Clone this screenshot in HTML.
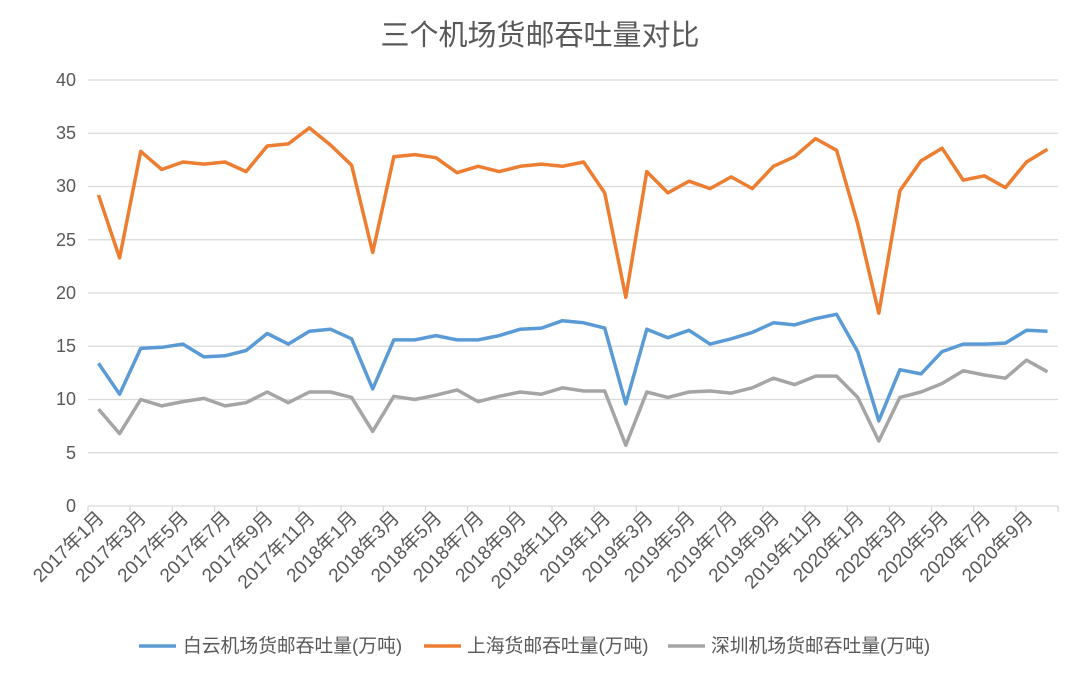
<!DOCTYPE html>
<html><head><meta charset="utf-8"><style>
body{margin:0;background:#fff;}
svg{display:block;font-family:"Liberation Sans","Noto Sans CJK SC",sans-serif;}
</style></head><body>
<svg id="s" width="1080" height="676" viewBox="0 0 1080 676">
<text x="540" y="45" text-anchor="middle" font-size="29" fill="#595959">三个机场货邮吞吐量对比</text>
<g stroke="#d9d9d9" stroke-width="1.3">
<line x1="88" x2="1058" y1="80" y2="80"/><line x1="88" x2="1058" y1="133.25" y2="133.25"/>
<line x1="88" x2="1058" y1="186.5" y2="186.5"/><line x1="88" x2="1058" y1="239.75" y2="239.75"/>
<line x1="88" x2="1058" y1="293" y2="293"/><line x1="88" x2="1058" y1="346.25" y2="346.25"/>
<line x1="88" x2="1058" y1="399.5" y2="399.5"/><line x1="88" x2="1058" y1="452.75" y2="452.75"/>
<line x1="88" x2="1058" y1="506" y2="506"/>
</g>
<g id="ticks" stroke="#d9d9d9" stroke-width="1.3"></g>
<g font-size="18" fill="#595959" text-anchor="end">
<text x="76" y="86">40</text><text x="76" y="139">35</text><text x="76" y="192">30</text>
<text x="76" y="246">25</text><text x="76" y="299">20</text><text x="76" y="352">15</text>
<text x="76" y="405">10</text><text x="76" y="459">5</text><text x="76" y="512">0</text>
</g>
<g font-size="19" fill="#595959" text-anchor="end">
<text transform="translate(105,519) rotate(-45)">2017年1月</text>
<text transform="translate(147.2,519) rotate(-45)">2017年3月</text>
<text transform="translate(189.4,519) rotate(-45)">2017年5月</text>
<text transform="translate(231.7,519) rotate(-45)">2017年7月</text>
<text transform="translate(273.9,519) rotate(-45)">2017年9月</text>
<text transform="translate(316.1,519) rotate(-45)">2017年11月</text>
<text transform="translate(358.3,519) rotate(-45)">2018年1月</text>
<text transform="translate(400.5,519) rotate(-45)">2018年3月</text>
<text transform="translate(442.8,519) rotate(-45)">2018年5月</text>
<text transform="translate(485,519) rotate(-45)">2018年7月</text>
<text transform="translate(527.2,519) rotate(-45)">2018年9月</text>
<text transform="translate(569.4,519) rotate(-45)">2018年11月</text>
<text transform="translate(611.6,519) rotate(-45)">2019年1月</text>
<text transform="translate(653.9,519) rotate(-45)">2019年3月</text>
<text transform="translate(696.1,519) rotate(-45)">2019年5月</text>
<text transform="translate(738.3,519) rotate(-45)">2019年7月</text>
<text transform="translate(780.5,519) rotate(-45)">2019年9月</text>
<text transform="translate(822.7,519) rotate(-45)">2019年11月</text>
<text transform="translate(865,519) rotate(-45)">2020年1月</text>
<text transform="translate(907.2,519) rotate(-45)">2020年3月</text>
<text transform="translate(949.4,519) rotate(-45)">2020年5月</text>
<text transform="translate(991.6,519) rotate(-45)">2020年7月</text>
<text transform="translate(1033.9,519) rotate(-45)">2020年9月</text>
</g>
<polyline id="pg" fill="none" stroke="#a5a5a5" stroke-width="3.5" stroke-linejoin="round"/>
<polyline id="po" fill="none" stroke="#ed7d31" stroke-width="3.5" stroke-linejoin="round"/>
<polyline id="pb" fill="none" stroke="#5b9bd5" stroke-width="3.5" stroke-linejoin="round"/>
<g font-size="18.8" fill="#595959">
<line x1="139" x2="176" y1="646" y2="646" stroke="#5b9bd5" stroke-width="3.5"/>
<text x="183" y="652">白云机场货邮吞吐量(万吨)</text>
<line x1="424" x2="461" y1="646" y2="646" stroke="#ed7d31" stroke-width="3.5"/>
<text x="467" y="652">上海货邮吞吐量(万吨)</text>
<line x1="668" x2="705" y1="646" y2="646" stroke="#a5a5a5" stroke-width="3.5"/>
<text x="711" y="652">深圳机场货邮吞吐量(万吨)</text>
</g>
</svg>
<script>
var o=[29.2,23.3,33.3,31.6,32.3,32.1,32.3,31.4,33.8,34.0,35.5,33.9,32.0,23.8,32.8,33.0,32.7,31.3,31.9,31.4,31.9,32.1,31.9,32.3,29.4,19.6,31.4,29.4,30.5,29.8,30.9,29.8,31.9,32.8,34.5,33.4,26.5,18.1,29.6,32.4,33.6,30.6,31.0,29.9,32.3,33.5];
var b=[13.4,10.5,14.8,14.9,15.2,14.0,14.1,14.6,16.2,15.2,16.4,16.6,15.7,11.0,15.6,15.6,16.0,15.6,15.6,16.0,16.6,16.7,17.4,17.2,16.7,9.6,16.6,15.8,16.5,15.2,15.7,16.3,17.2,17.0,17.6,18.0,14.5,8.0,12.8,12.4,14.5,15.2,15.2,15.3,16.5,16.4];
var g=[9.1,6.8,10.0,9.4,9.8,10.1,9.4,9.7,10.7,9.7,10.7,10.7,10.2,7.0,10.3,10.0,10.4,10.9,9.8,10.3,10.7,10.5,11.1,10.8,10.8,5.7,10.7,10.2,10.7,10.8,10.6,11.1,12.0,11.4,12.2,12.2,10.2,6.1,10.2,10.7,11.5,12.7,12.3,12.0,13.7,12.6];
function pts(a){return a.map(function(v,i){return (98.5+i*21.09).toFixed(1)+","+(506-v*10.65).toFixed(1)}).join(" ")}
document.getElementById("po").setAttribute("points",pts(o));
document.getElementById("pb").setAttribute("points",pts(b));
document.getElementById("pg").setAttribute("points",pts(g));
var t="";for(var i=0;i<=23;i++){var x=88+i*42.18;t+='<line x1="'+x+'" x2="'+x+'" y1="506" y2="512"/>';}
document.getElementById("ticks").innerHTML=t;
</script>
</body></html>
